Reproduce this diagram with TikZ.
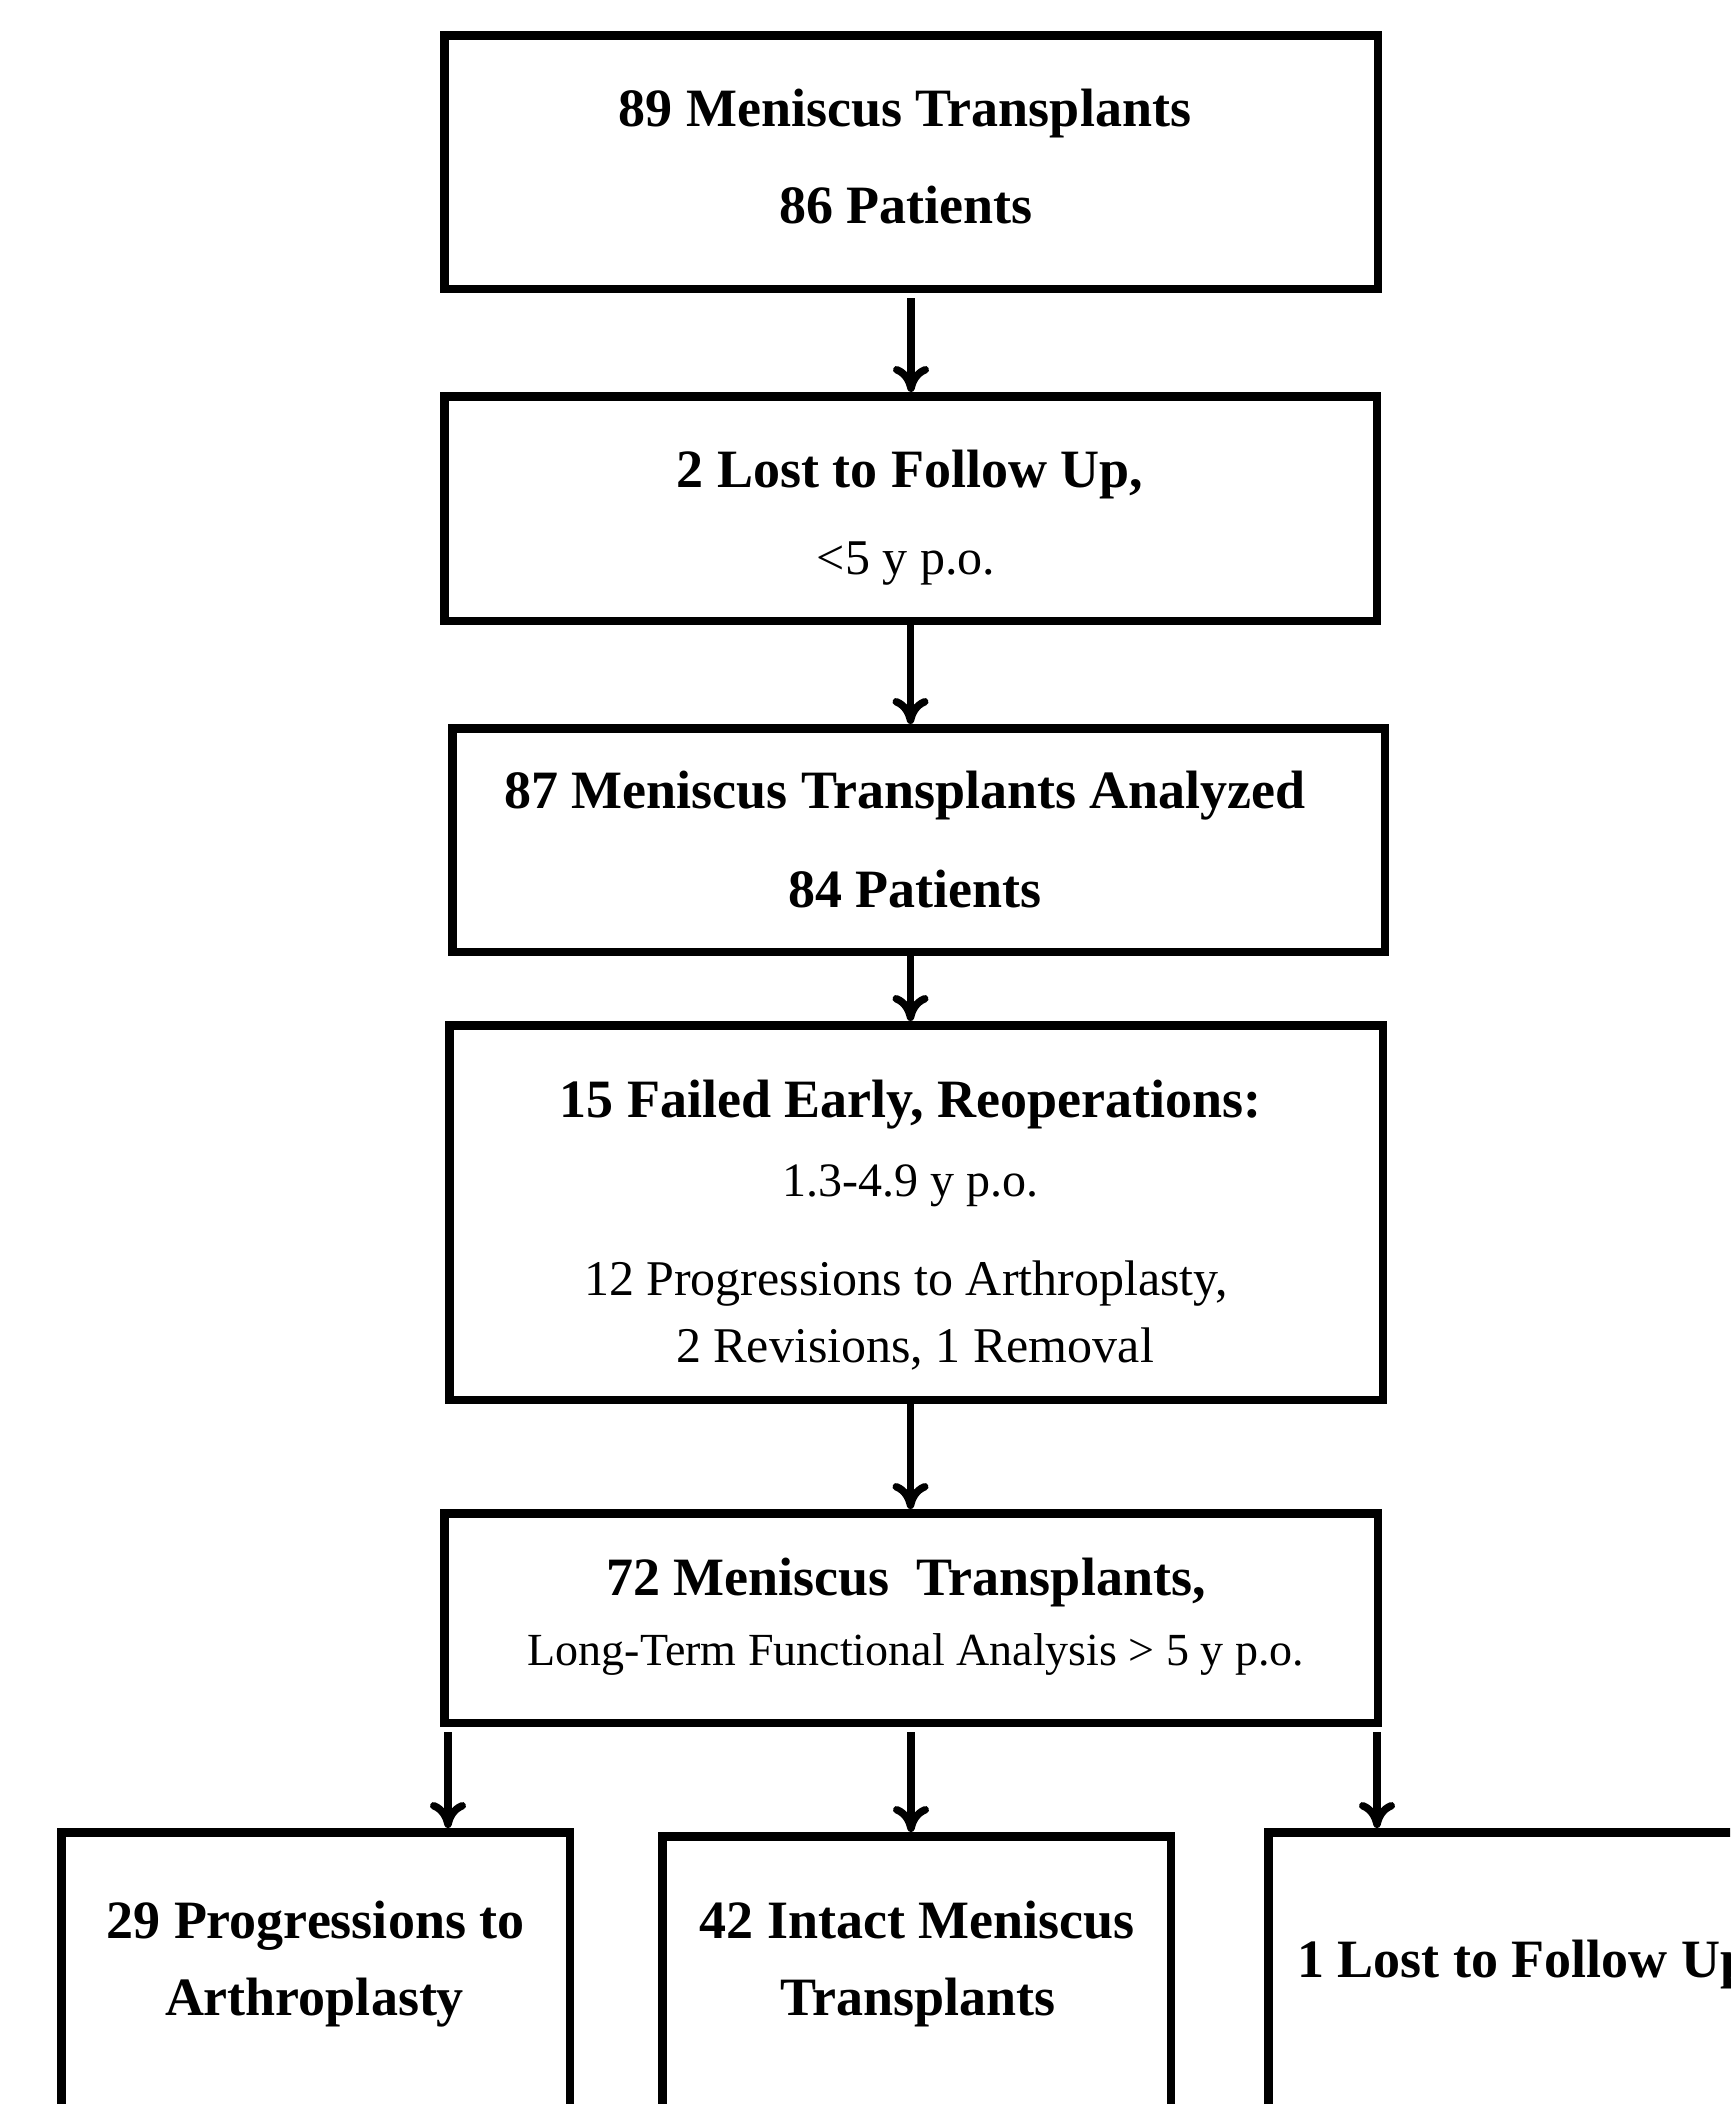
\documentclass[tikz,border=0pt]{standalone}
\usepackage{fontspec}
\setmainfont{Liberation Serif}
\usetikzlibrary{arrows.meta}
\begin{document}
\begin{tikzpicture}[x=0.5pt,y=-0.5pt,
  boxst/.style 2 args={draw=black, line width=4.25pt, inner sep=0pt, minimum width=#1, minimum height=#2},
  hd/.style={anchor=base, inner sep=0pt, font=\fontsize{27}{32}\selectfont\bfseries},
  sub/.style={anchor=base, inner sep=0pt, font=\fontsize{24}{29}\selectfont},
  subl/.style={anchor=base, inner sep=0pt, font=\fontsize{25}{30}\selectfont},
  arr/.style={line width=3.75pt, -{Computer Modern Rightarrow[length=13pt,width=18pt]}}]
\useasboundingbox (0,0) rectangle (1730,2104);
\fill[white] (0,0) rectangle (1730,2104);
\clip (0,0) rectangle (1730,2104);
% boxes
\node[boxst={466.75pt}{126.75pt}] (b1) at (911,162) {};
\node[boxst={466.25pt}{112.25pt}] (b2) at (910.5,508.5) {};
\node[boxst={466.25pt}{111.75pt}] (b3) at (918.5,840) {};
\node[boxst={466.75pt}{187.25pt}] (b4) at (916,1212.5) {};
\node[boxst={466.75pt}{104.75pt}] (b5) at (911,1618) {};
\node[boxst={254.25pt}{281.75pt}] (ba) at (315.5,2114) {};
\node[boxst={254.25pt}{279.75pt}] (bb) at (916.5,2116) {};
\node[boxst={254.25pt}{281.75pt}] (bc) at (1522.5,2114) {};
% texts
\node[hd] (t1a) at (905,126) {89 Meniscus Transplants};
\node[hd] (t1b) at (906,223) {86 Patients};
\node[hd] (t2a) at (910,487) {2 Lost to Follow Up,};
\node[subl] (t2b) at (906,574) {<5 y p.o.};
\node[hd] (t3a) at (905,808) {87 Meniscus Transplants Analyzed};
\node[hd] (t3b) at (915,907) {84 Patients};
\node[hd] (t4a) at (910.5,1117) {15 Failed Early, Reoperations:};
\node[sub] (t4b) at (910,1196) {1.3-4.9 y p.o.};
\node[subl] (t4c) at (906,1295) {12 Progressions to Arthroplasty,};
\node[subl] (t4d) at (915,1362) {2 Revisions, 1 Removal};
\node[hd] (t5a) at (906,1595) {72 Meniscus\ \ Transplants,};
\node[sub, font=\fontsize{23}{28}\selectfont] (t5b) at (916,1665) {Long-Term Functional Analysis > 5 y p.o.};
\node[hd] (tAa) at (315.5,1938) {29 Progressions to};
\node[hd] (tAb) at (314.5,2015) {Arthroplasty};
\node[hd] (tBa) at (917,1938) {42 Intact Meniscus};
\node[hd] (tBb) at (918,2015) {Transplants};
\node[hd, anchor=base west] (tC) at (1297,1977) {1 Lost to Follow Up};
% connectors
\draw[arr, shorten <=2.5pt] (b1.south) -- (b1.south |- b2.north);
\draw[arr] (b2.south) -- (b2.south |- b3.north);
\draw[arr] (b3.south -| b2.south) -- (b4.north -| b2.south);
\draw[arr] (b4.south -| b2.south) -- (b5.north -| b2.south);
\coordinate (s1) at ([xshift=4pt]b5.south west);
\coordinate (s3) at ([xshift=-2.5pt]b5.south east);
\draw[arr, shorten <=2.5pt] (s1) -- (s1 |- ba.north);
\draw[arr, shorten <=2.5pt] (b5.south) -- (b5.south |- bb.north);
\draw[arr, shorten <=2.5pt] (s3) -- (s3 |- bc.north);
\end{tikzpicture}
\end{document}
